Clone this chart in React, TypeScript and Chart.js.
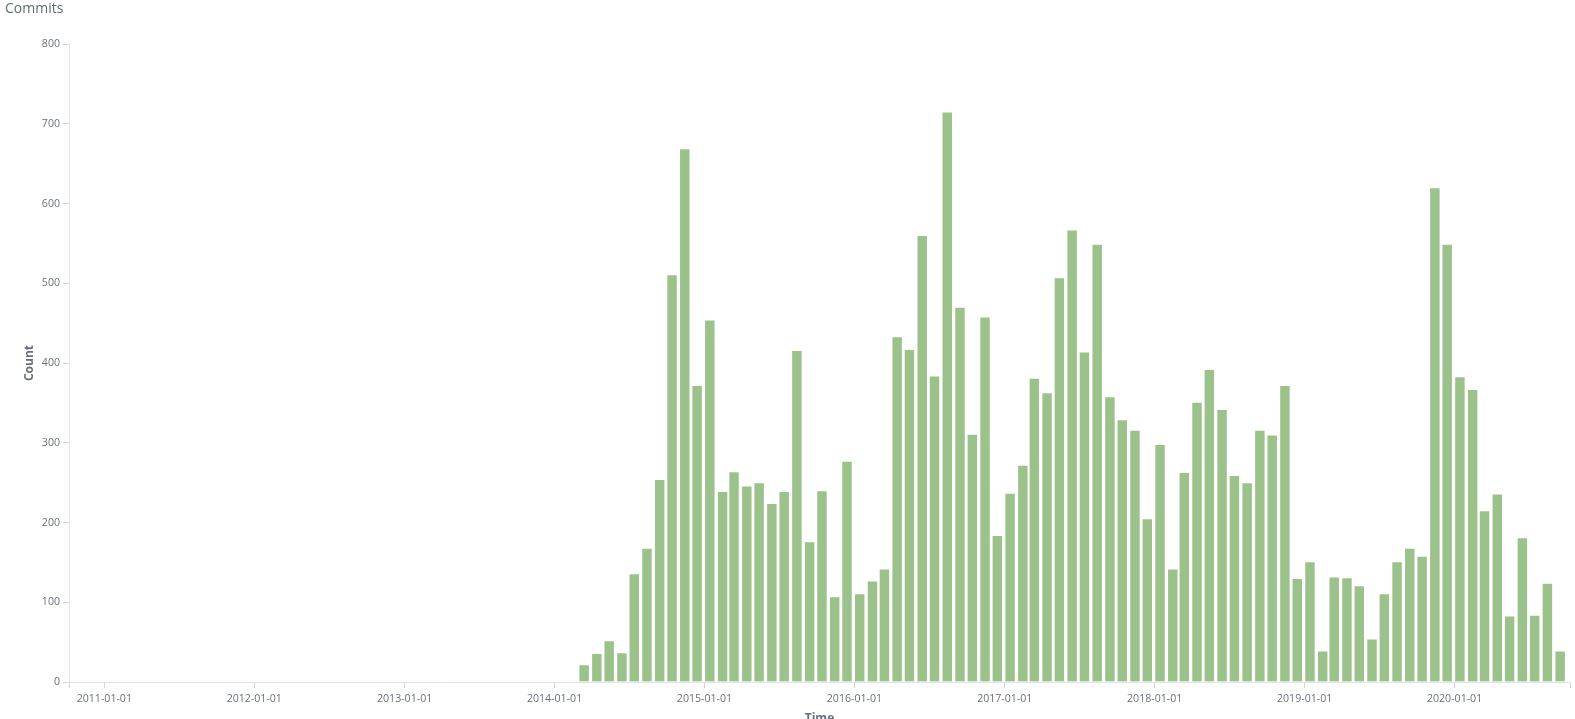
import React, { useEffect, useRef } from 'react';
import { Chart, registerables } from 'chart.js';

Chart.register(...registerables);

const chartTitle = 'Commits';
const xTitle = 'Time';
const yTitle = 'Count';

const months: string[] = [
  '2014-03', '2014-04', '2014-05', '2014-06', '2014-07', '2014-08', '2014-09', '2014-10', '2014-11', '2014-12',
  '2015-01', '2015-02', '2015-03', '2015-04', '2015-05', '2015-06', '2015-07', '2015-08', '2015-09', '2015-10', '2015-11', '2015-12',
  '2016-01', '2016-02', '2016-03', '2016-04', '2016-05', '2016-06', '2016-07', '2016-08', '2016-09', '2016-10', '2016-11', '2016-12',
  '2017-01', '2017-02', '2017-03', '2017-04', '2017-05', '2017-06', '2017-07', '2017-08', '2017-09', '2017-10', '2017-11', '2017-12',
  '2018-01', '2018-02', '2018-03', '2018-04', '2018-05', '2018-06', '2018-07', '2018-08', '2018-09', '2018-10', '2018-11', '2018-12',
  '2019-01', '2019-02', '2019-03', '2019-04', '2019-05', '2019-06', '2019-07', '2019-08', '2019-09', '2019-10', '2019-11', '2019-12',
  '2020-01', '2020-02', '2020-03', '2020-04', '2020-05', '2020-06', '2020-07', '2020-08', '2020-09',
];

const counts: number[] = [
  22, 36, 52, 37, 136, 168, 254, 511, 669, 372,
  454, 239, 264, 246, 250, 224, 239, 416, 176, 240, 107, 277,
  111, 127, 142, 433, 417, 560, 384, 715, 470, 311, 458, 184,
  237, 272, 381, 363, 507, 567, 414, 549, 358, 329, 316, 205,
  298, 142, 263, 351, 392, 342, 259, 250, 316, 310, 372, 130,
  151, 39, 132, 131, 121, 54, 111, 151, 168, 158, 620, 549,
  383, 367, 215, 236, 83, 181, 84, 124, 39,
];

const xTickLabels: string[] = [
  '2011-01-01', '2012-01-01', '2013-01-01', '2014-01-01', '2015-01-01',
  '2016-01-01', '2017-01-01', '2018-01-01', '2019-01-01', '2020-01-01',
];

const yTickValues: number[] = [0, 100, 200, 300, 400, 500, 600, 700, 800];

const xDomain: string[] = ['2010-10-07', '2020-10-08'];

const W = 1575;
const H = 736;
const PLOT_TOP = 44;
const PLOT_BOTTOM = 682;
const PLOT_LEFT = 69;

function dateMs(s: string, day?: number): number {
  const p = s.split('-').map(Number);
  return Date.UTC(p[0], p[1] - 1, day ?? p[2] ?? 1);
}

function fmt(ms: number): string {
  const d = new Date(ms);
  const y = d.getUTCFullYear();
  const m = String(d.getUTCMonth() + 1).padStart(2, '0');
  const dd = String(d.getUTCDate()).padStart(2, '0');
  return `${y}-${m}-${dd}`;
}

export default function App() {
  const ref = useRef<HTMLCanvasElement | null>(null);

  useEffect(() => {
    const canvas = ref.current;
    if (!canvas) return;
    const font = 'Open Sans';
    const labelColor = '#69707d';
    const xMin = dateMs(xDomain[0]);
    const xMax = dateMs(xDomain[1]);
    const chart = new Chart(canvas, {
      type: 'bar',
      data: {
        datasets: [
          {
            label: yTitle,
            data: months.map((m, i) => ({ x: dateMs(m, 14), y: counts[i] })),
            backgroundColor: '#9bc28a',
            borderColor: 'rgba(255,255,255,0.5)',
            borderWidth: 1,
            borderSkipped: 'start',
            barThickness: 10.8,
          },
        ],
      },
      options: {
        responsive: false,
        animation: false,
        devicePixelRatio: 1,
        layout: { padding: { left: 5, right: 2, top: 0, bottom: 0 } },
        plugins: {
          legend: { display: false },
          tooltip: { enabled: false },
          title: {
            display: true,
            text: chartTitle,
            align: 'start',
            color: '#5d6f6f',
            font: { family: font, size: 14, weight: 'normal', lineHeight: 1.2 },
            padding: { top: 1, bottom: PLOT_TOP - 1 - 16.8 },
          },
        },
        scales: {
          x: {
            type: 'linear',
            offset: false,
            min: xMin,
            max: xMax,
            afterBuildTicks: (scale: any) => {
              scale.ticks = [xMin, ...xTickLabels.map((t) => dateMs(t)), xMax].map((v) => ({ value: v }));
            },
            afterFit: (scale: any) => {
              scale.height = H - PLOT_BOTTOM;
            },
            ticks: {
              autoSkip: false,
              maxRotation: 0,
              padding: 5,
              color: labelColor,
              font: { family: font, size: 10.6 },
              callback: (v: any) => {
                const n = Number(v);
                if (n === xMin || n === xMax) return '';
                return fmt(n);
              },
            },
            grid: {
              offset: false,
              drawOnChartArea: false,
              drawTicks: true,
              tickLength: 6,
              color: '#e4e4e4',
              tickColor: '#d4d4d4',
            },
            border: { display: true, color: '#e4e4e4', width: 1 },
            title: {
              display: true,
              text: xTitle,
              color: '#69707d',
              font: { family: font, size: 12, weight: 'bold' },
              padding: { top: 0, bottom: 10 },
            },
          },
          y: {
            type: 'linear',
            min: 0,
            max: 800,
            afterBuildTicks: (scale: any) => {
              scale.ticks = yTickValues.map((v) => ({ value: v }));
            },
            afterFit: (scale: any) => {
              scale.width = PLOT_LEFT - 5;
            },
            ticks: {
              padding: 3,
              color: labelColor,
              font: { family: font, size: 10.6 },
            },
            grid: {
              drawOnChartArea: false,
              drawTicks: true,
              tickLength: 6,
              color: '#e4e4e4',
              tickColor: '#d4d4d4',
            },
            border: { display: true, color: '#e4e4e4', width: 1 },
            title: {
              display: true,
              text: yTitle,
              color: '#69707d',
              font: { family: font, size: 12, weight: 'bold' },
              padding: { top: 17.5, bottom: 0 },
            },
          },
        },
      },
    });
    return () => chart.destroy();
  }, []);

  return (
    <div style={{ position: 'fixed', left: 0, top: 0, width: W, height: H, background: '#fff' }}>
      <canvas ref={ref} width={W} height={H} style={{ display: 'block', width: W, height: H }} />
    </div>
  );
}
